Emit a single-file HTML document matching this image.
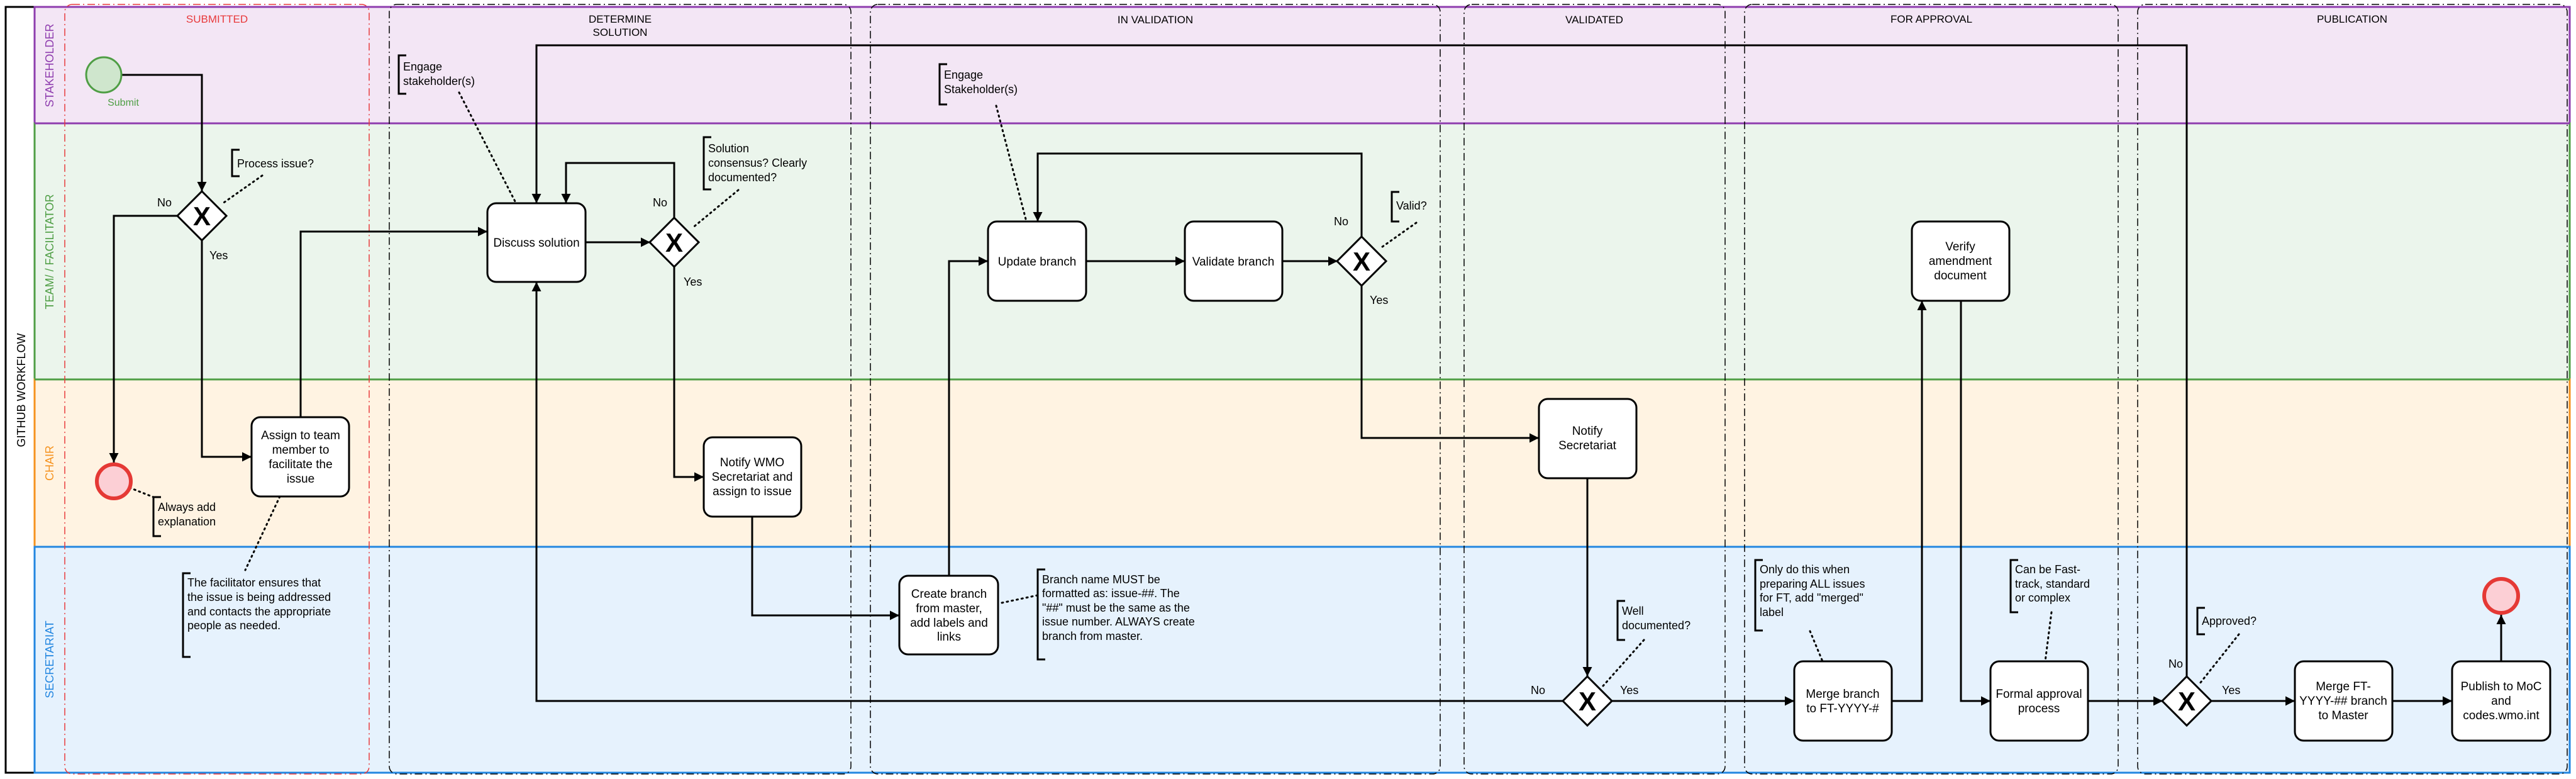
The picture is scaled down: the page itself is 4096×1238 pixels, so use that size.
<!DOCTYPE html>
<html><head><meta charset="utf-8"><style>
html,body{margin:0;padding:0;background:#fff;}
svg{display:block;}
text{font-family:"Liberation Sans",Arial,sans-serif;}
</style></head><body>
<svg width="4096" height="1238" viewBox="0 0 4096 1238" xmlns="http://www.w3.org/2000/svg">
<defs>
<marker id="a" viewBox="0 0 10 10" refX="10" refY="5" markerWidth="5" markerHeight="5" orient="auto" markerUnits="strokeWidth"><path d="M0,0 L10,5 L0,10 z" fill="#000"/></marker>
</defs>
<rect x="9" y="11" width="4077" height="1217" fill="#fff" stroke="#000" stroke-width="3"/>
<text transform="translate(40,620) rotate(-90)" font-size="18" text-anchor="middle">GITHUB WORKFLOW</text>
<rect x="55" y="11" width="4031" height="185" fill="#f3e6f5" stroke="#8e3cae" stroke-width="3"/>
<rect x="55" y="196" width="4031" height="407" fill="#ebf5ec" stroke="#4f9e45" stroke-width="3"/>
<rect x="55" y="603" width="4031" height="266" fill="#fff3e2" stroke="#f5921e" stroke-width="3"/>
<rect x="55" y="869" width="4031" height="359" fill="#e6f2fd" stroke="#2286e0" stroke-width="3"/>
<line x1="55" y1="11" x2="4086" y2="11" stroke="#8e3cae" stroke-width="3"/>
<line x1="55" y1="196" x2="4086" y2="196" stroke="#8e3cae" stroke-width="3"/>
<line x1="55" y1="603" x2="4086" y2="603" stroke="#4f9e45" stroke-width="3"/>
<line x1="55" y1="869" x2="4086" y2="869" stroke="#2286e0" stroke-width="3"/>
<text transform="translate(85,104) rotate(-90)" font-size="18" fill="#8e3cae" text-anchor="middle">STAKEHOLDER</text>
<text transform="translate(85,400) rotate(-90)" font-size="18" fill="#4f9e45" text-anchor="middle">TEAM/ / FACILITATOR</text>
<text transform="translate(85,736) rotate(-90)" font-size="18" fill="#f5921e" text-anchor="middle">CHAIR</text>
<text transform="translate(85,1048) rotate(-90)" font-size="18" fill="#2286e0" text-anchor="middle">SECRETARIAT</text>
<g fill="none" stroke-width="1.5" stroke-dasharray="12,5,2,5">
<rect x="103" y="7" width="484" height="1223" rx="12" stroke="#e8393b"/>
<rect x="619" y="7" width="734" height="1223" rx="12" stroke="#000"/>
<rect x="1384" y="7" width="906" height="1223" rx="12" stroke="#000"/>
<rect x="2328" y="7" width="415" height="1223" rx="12" stroke="#000"/>
<rect x="2774" y="7" width="594" height="1223" rx="12" stroke="#000"/>
<rect x="3399" y="7" width="683" height="1223" rx="12" stroke="#000"/>
</g>
<g font-size="17" text-anchor="middle">
<text x="345" y="36" fill="#e8393b">SUBMITTED</text>
<text x="986" y="36">DETERMINE</text><text x="986" y="57">SOLUTION</text>
<text x="1837" y="37">IN VALIDATION</text>
<text x="2535" y="37">VALIDATED</text>
<text x="3071" y="36">FOR APPROVAL</text>
<text x="3740" y="36">PUBLICATION</text>
</g>
<g fill="none" stroke="#000" stroke-width="3">
<path d="M194,119 H321 V304" marker-end="url(#a)"/>
<path d="M283,343 H181 V735" marker-end="url(#a)"/>
<path d="M321,382 V726 H400" marker-end="url(#a)"/>
<path d="M478,663 V368 H775" marker-end="url(#a)"/>
<path d="M3477,1075 V72 H853 V323" marker-end="url(#a)"/>
<path d="M931,385 H1034" marker-end="url(#a)"/>
<path d="M1072,346 V259 H900 V323" marker-end="url(#a)"/>
<path d="M1072,424 V758 H1119" marker-end="url(#a)"/>
<path d="M1196,821 V978 H1430" marker-end="url(#a)"/>
<path d="M2486,1114 H853 V448" marker-end="url(#a)"/>
<path d="M1509,915 V415 H1571" marker-end="url(#a)"/>
<path d="M1727,415 H1884" marker-end="url(#a)"/>
<path d="M2039,415 H2127" marker-end="url(#a)"/>
<path d="M2165,376 V244 H1650 V352" marker-end="url(#a)"/>
<path d="M2165,454 V696 H2447" marker-end="url(#a)"/>
<path d="M2524,760 V1075" marker-end="url(#a)"/>
<path d="M2562,1114 H2853" marker-end="url(#a)"/>
<path d="M3008,1114 H3056 V478" marker-end="url(#a)"/>
<path d="M3118,478 V1114 H3165" marker-end="url(#a)"/>
<path d="M3320,1114 H3439" marker-end="url(#a)"/>
<path d="M3515,1114 H3649" marker-end="url(#a)"/>
<path d="M3804,1114 H3899" marker-end="url(#a)"/>
<path d="M3977,1051 V977" marker-end="url(#a)"/>
</g>
<g fill="none" stroke="#000" stroke-width="3" stroke-dasharray="2,6" stroke-linecap="round">
<path d="M417,279 L353,324"/>
<path d="M730,147 L820,322"/>
<path d="M1174,302 L1100,363"/>
<path d="M206,775 L244,790"/>
<path d="M445,789 L390,906"/>
<path d="M1584,168 L1632,352"/>
<path d="M2252,354 L2194,395"/>
<path d="M2614,1017 L2549,1090"/>
<path d="M1593,958 L1650,946"/>
<path d="M2878,1003 L2898,1051"/>
<path d="M3262,973 L3252,1051"/>
<path d="M3560,1008 L3498,1086"/>
</g>
<g fill="none" stroke="#000" stroke-width="3">
<path d="M381,238 H369 V280 H381"/>
<path d="M646,88 H634 V149 H646"/>
<path d="M1131,218 H1119 V301 H1131"/>
<path d="M256,790 H244 V852 H256"/>
<path d="M303,911 H291 V1044 H303"/>
<path d="M1506,102 H1494 V166 H1506"/>
<path d="M2225,305 H2213 V352 H2225"/>
<path d="M2584,955 H2572 V1017 H2584"/>
<path d="M1662,905 H1650 V1048 H1662"/>
<path d="M2803,890 H2791 V1002 H2803"/>
<path d="M3209,890 H3197 V973 H3209"/>
<path d="M3506,966 H3494 V1008 H3506"/>
</g>
<g font-size="18">
<text x="377" y="266">Process issue?</text>
<text x="641" y="112">Engage</text><text x="641" y="135">stakeholder(s)</text>
<text x="1126" y="242">Solution</text><text x="1126" y="265">consensus? Clearly</text><text x="1126" y="288">documented?</text>
<text x="251" y="812">Always add</text><text x="251" y="835">explanation</text>
<text x="298" y="932">The facilitator ensures that</text><text x="298" y="955">the issue is being addressed</text><text x="298" y="978">and contacts the appropriate</text><text x="298" y="1000">people as needed.</text>
<text x="1501" y="125">Engage</text><text x="1501" y="148">Stakeholder(s)</text>
<text x="2220" y="333">Valid?</text>
<text x="2579" y="977">Well</text><text x="2579" y="1000">documented?</text>
<text x="1657" y="927">Branch name MUST be</text><text x="1657" y="949">formatted as: issue-##. The</text><text x="1657" y="972">"##" must be the same as the</text><text x="1657" y="994">issue number. ALWAYS create</text><text x="1657" y="1017">branch from master.</text>
<text x="2798" y="911">Only do this when</text><text x="2798" y="934">preparing ALL issues</text><text x="2798" y="956">for FT, add "merged"</text><text x="2798" y="979">label</text>
<text x="3204" y="911">Can be Fast-</text><text x="3204" y="934">track, standard</text><text x="3204" y="956">or complex</text>
<text x="3501" y="993">Approved?</text>
<text x="250" y="328">No</text><text x="333" y="412">Yes</text>
<text x="1038" y="328">No</text><text x="1087" y="454">Yes</text>
<text x="2121" y="358">No</text><text x="2178" y="483">Yes</text>
<text x="2434" y="1103">No</text><text x="2576" y="1103">Yes</text>
<text x="3448" y="1061">No</text><text x="3533" y="1103">Yes</text>
</g>
<circle cx="165" cy="119" r="28" fill="#cfe6cd" stroke="#4f9e45" stroke-width="3"/>
<text x="196" y="168" font-size="16" fill="#4f9e45" text-anchor="middle">Submit</text>
<circle cx="181" cy="765" r="27" fill="#fccfd5" stroke="#e53935" stroke-width="6"/>
<circle cx="3977" cy="947" r="27" fill="#fccfd5" stroke="#e53935" stroke-width="6"/>
<g stroke="#000" stroke-width="3" fill="#fff">
<path d="M321,304 L360,343 L321,382 L282,343 Z"/>
<path d="M1072,346 L1111,385 L1072,424 L1033,385 Z"/>
<path d="M2165,376 L2204,415 L2165,454 L2126,415 Z"/>
<path d="M2524,1075 L2563,1114 L2524,1153 L2485,1114 Z"/>
<path d="M3477,1075 L3516,1114 L3477,1153 L3438,1114 Z"/>
</g>
<g font-size="42" font-weight="bold" text-anchor="middle">
<text x="321" y="358">X</text><text x="1072" y="400">X</text><text x="2165" y="430">X</text><text x="2524" y="1129">X</text><text x="3477" y="1129">X</text>
</g>
<g fill="#fff" stroke="#000" stroke-width="3">
<rect x="400" y="663" width="155" height="126" rx="14"/>
<rect x="775" y="323" width="156" height="125" rx="14"/>
<rect x="1119" y="695" width="155" height="126" rx="14"/>
<rect x="1430" y="915" width="157" height="125" rx="14"/>
<rect x="1571" y="352" width="156" height="126" rx="14"/>
<rect x="1884" y="352" width="155" height="126" rx="14"/>
<rect x="2447" y="634" width="155" height="126" rx="14"/>
<rect x="3040" y="352" width="155" height="126" rx="14"/>
<rect x="2853" y="1051" width="155" height="126" rx="14"/>
<rect x="3165" y="1051" width="155" height="126" rx="14"/>
<rect x="3649" y="1051" width="155" height="126" rx="14"/>
<rect x="3899" y="1051" width="156" height="126" rx="14"/>
</g>
<g font-size="19" text-anchor="middle">
<text x="478" y="698">Assign to team</text><text x="478" y="721">member to</text><text x="478" y="744">facilitate the</text><text x="478" y="767">issue</text>
<text x="853" y="392">Discuss solution</text>
<text x="1196" y="741">Notify WMO</text><text x="1196" y="764">Secretariat and</text><text x="1196" y="787">assign to issue</text>
<text x="1509" y="950">Create branch</text><text x="1509" y="973">from master,</text><text x="1509" y="996">add labels and</text><text x="1509" y="1018">links</text>
<text x="1649" y="422">Update branch</text>
<text x="1961" y="422">Validate branch</text>
<text x="2524" y="691">Notify</text><text x="2524" y="714">Secretariat</text>
<text x="3117" y="398">Verify</text><text x="3117" y="421">amendment</text><text x="3117" y="444">document</text>
<text x="2930" y="1109">Merge branch</text><text x="2930" y="1132">to FT-YYYY-#</text>
<text x="3242" y="1109">Formal approval</text><text x="3242" y="1132">process</text>
<text x="3726" y="1097">Merge FT-</text><text x="3726" y="1120">YYYY-## branch</text><text x="3726" y="1143">to Master</text>
<text x="3977" y="1097">Publish to MoC</text><text x="3977" y="1120">and</text><text x="3977" y="1143">codes.wmo.int</text>
</g>
</svg>
</body></html>
